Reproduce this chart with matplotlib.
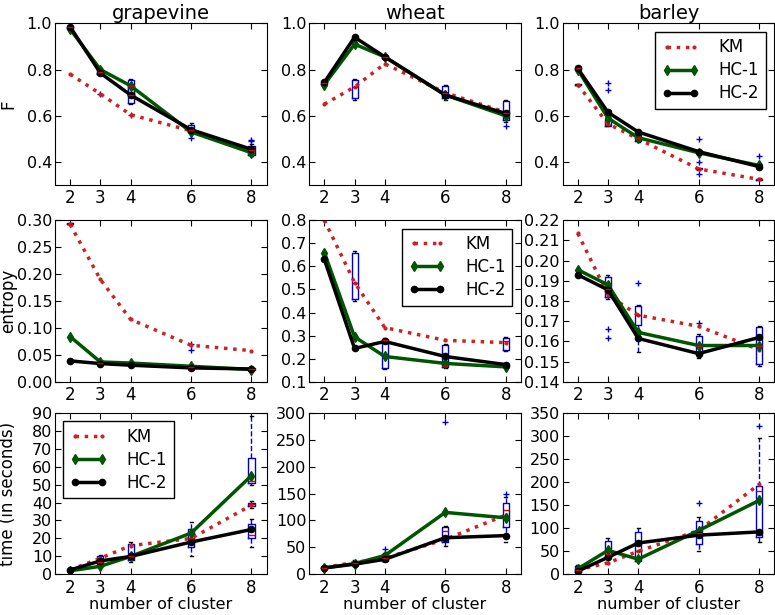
import numpy as np
import matplotlib
matplotlib.use("Agg")
import matplotlib.pyplot as plt

# cluster counts on the x axis
k = [2, 3, 4, 6, 8]
datasets = ['grapevine', 'wheat', 'barley']

# mean curves: one row per dataset, values at k
F_km = [[0.78, 0.695, 0.605, 0.535, 0.445],
        [0.65, 0.725, 0.825, 0.70, 0.615],
        [0.735, 0.565, 0.50, 0.37, 0.325]]
F_hc1 = [[0.975, 0.80, 0.73, 0.53, 0.44],
         [0.735, 0.91, 0.855, 0.69, 0.60],
         [0.80, 0.59, 0.505, 0.44, 0.385]]
F_hc2 = [[0.985, 0.785, 0.69, 0.54, 0.455],
         [0.745, 0.94, 0.855, 0.69, 0.61],
         [0.805, 0.615, 0.53, 0.445, 0.38]]

ent_km = [[0.292, 0.19, 0.116, 0.068, 0.058],
          [0.80, 0.53, 0.335, 0.28, 0.27],
          [0.2135, 0.183, 0.173, 0.1675, 0.156]]
ent_hc1 = [[0.084, 0.037, 0.035, 0.029, 0.023],
           [0.66, 0.295, 0.21, 0.18, 0.165],
           [0.1955, 0.188, 0.1645, 0.158, 0.158]]
ent_hc2 = [[0.039, 0.034, 0.031, 0.026, 0.024],
           [0.63, 0.245, 0.275, 0.21, 0.175],
           [0.193, 0.1855, 0.1615, 0.154, 0.162]]

time_km = [[2.5, 9, 16, 20, 38.5],
           [13, 22, 30, 65, 110],
           [10, 25, 50, 95, 195]]
time_hc1 = [[2, 4.5, 10, 23, 55],
            [12, 20, 35, 115, 105],
            [12, 52, 33, 95, 160]]
time_hc2 = [[2.5, 7.5, 10, 18, 25],
            [12, 19, 28, 68, 72],
            [7, 37, 68, 85, 92]]

# box summaries: (k, whisker low, q1, median, q3, whisker high, fliers)
F_boxes = [
    [(2, 0.98, 0.982, 0.985, 0.99, 0.992, []),
     (3, 0.775, 0.78, 0.79, 0.80, 0.805, [0.695]),
     (4, 0.68, 0.69, 0.73, 0.755, 0.76, [0.605]),
     (4, 0.65, 0.655, 0.69, 0.73, 0.735, []),
     (6, 0.52, 0.53, 0.54, 0.56, 0.57, [0.505]),
     (8, 0.425, 0.43, 0.45, 0.47, 0.48, [0.49, 0.495])],
    [(2, 0.735, 0.738, 0.74, 0.743, 0.745, []),
     (3, 0.67, 0.675, 0.725, 0.755, 0.76, []),
     (4, 0.85, 0.852, 0.855, 0.858, 0.86, []),
     (6, 0.67, 0.675, 0.70, 0.73, 0.735, []),
     (8, 0.575, 0.58, 0.61, 0.665, 0.67, [0.555])],
    [(2, 0.733, 0.734, 0.735, 0.736, 0.737, []),
     (2, 0.803, 0.804, 0.805, 0.806, 0.807, []),
     (3, 0.555, 0.557, 0.56, 0.585, 0.59, [0.74, 0.71]),
     (4, 0.485, 0.49, 0.505, 0.515, 0.54, []),
     (6, 0.365, 0.368, 0.37, 0.372, 0.375, [0.50, 0.40, 0.35]),
     (8, 0.32, 0.322, 0.325, 0.328, 0.33, [0.425, 0.39])]]
ent_boxes = [
    [(2, 0.291, 0.292, 0.293, 0.294, 0.295, []),
     (3, 0.032, 0.034, 0.036, 0.038, 0.04, []),
     (6, 0.024, 0.026, 0.028, 0.03, 0.032, [0.06, 0.071]),
     (8, 0.021, 0.023, 0.024, 0.026, 0.028, [])],
    [(3, 0.45, 0.46, 0.53, 0.66, 0.665, []),
     (4, 0.155, 0.16, 0.28, 0.285, 0.29, []),
     (6, 0.16, 0.165, 0.17, 0.26, 0.265, []),
     (8, 0.235, 0.24, 0.275, 0.29, 0.295, [])],
    [(3, 0.181, 0.182, 0.186, 0.192, 0.193, [0.166, 0.1615]),
     (4, 0.155, 0.168, 0.173, 0.1775, 0.178, [0.189]),
     (6, 0.152, 0.155, 0.158, 0.1625, 0.1635, [0.169]),
     (8, 0.148, 0.149, 0.158, 0.167, 0.1675, [])]]
time_boxes = [
    [(3, 4, 5, 7, 10, 11, []),
     (4, 7, 8, 10, 17, 18, []),
     (6, 10, 15, 20, 25, 29, []),
     (8, 15, 20, 22, 28, 31, []),
     (8, 37, 38, 39, 40, 41, []),
     (8, 50, 51, 52, 65, 88, [])],
    [(2, 9, 11, 12, 14, 15, []),
     (3, 17, 19, 21, 25, 27, []),
     (4, 24, 25, 30, 37, 40, [47]),
     (6, 52, 60, 80, 88, 90, [282]),
     (8, 60, 88, 120, 133, 143, [150])],
    [(2, 3, 5, 10, 18, 20, []),
     (3, 22, 40, 45, 72, 78, []),
     (4, 30, 30, 50, 92, 100, []),
     (6, 50, 65, 90, 115, 125, [155]),
     (8, 70, 80, 180, 192, 295, [322])]]

ylims = [[(0.3, 1.0)] * 3,
         [(0.0, 0.30), (0.1, 0.8), (0.14, 0.22)],
         [(0, 90), (0, 300), (0, 350)]]
yticks = [[np.arange(0.4, 1.01, 0.2)] * 3,
          [np.arange(0, 0.301, 0.05), np.arange(0.1, 0.801, 0.1), np.arange(0.14, 0.2201, 0.01)],
          [np.arange(0, 91, 10), np.arange(0, 301, 50), np.arange(0, 351, 50)]]
ytickfmt = [["%.1f"] * 3, ["%.2f", "%.1f", "%.2f"], ["%d"] * 3]
ylabels = ['F', 'entropy', 'time (in seconds)']
legend_at = {(0, 2): 'upper right', (1, 1): 'upper right', (2, 0): 'upper left'}

lines = [(F_km, F_hc1, F_hc2), (ent_km, ent_hc1, ent_hc2), (time_km, time_hc1, time_hc2)]
boxes = [F_boxes, ent_boxes, time_boxes]

plt.rcParams['font.family'] = 'DejaVu Sans'
fig = plt.figure(figsize=(7.75, 6.15), dpi=100)
lefts = [0.071, 0.399, 0.726]
bottoms = [0.699, 0.379, 0.066]
w, h = 0.273, 0.263

for r in range(3):
    for c in range(3):
        ax = fig.add_axes([lefts[c], bottoms[r], w, h])
        stats = [dict(whislo=b[1], q1=b[2], med=b[3], q3=b[4], whishi=b[5], fliers=b[6])
                 for b in boxes[r][c]]
        pos = [b[0] for b in boxes[r][c]]
        ax.bxp(stats, positions=pos, widths=0.2, manage_ticks=False,
               boxprops=dict(color='#0000cc', lw=1),
               medianprops=dict(color='#dd0000', lw=1),
               whiskerprops=dict(color='#0000cc', ls='--', lw=1),
               capprops=dict(color='k', lw=1),
               flierprops=dict(marker='+', markeredgecolor='#0000cc', markersize=5, ls='none'))
        km, hc1, hc2 = lines[r]
        ax.plot(k, km[c], color='#cc2222', ls=':', lw=2.5, marker='.', markersize=4, label='KM')
        ax.plot(k, hc1[c], color='#005500', ls='-', lw=2.5, marker='d', markersize=5, label='HC-1')
        ax.plot(k, hc2[c], color='k', ls='-', lw=2.5, marker='o', markersize=4.5, label='HC-2')
        ax.set_xlim(1.5, 8.5)
        ax.set_xticks(k)
        ax.set_ylim(*ylims[r][c])
        ax.set_yticks(yticks[r][c])
        ax.set_yticklabels([ytickfmt[r][c] % v for v in yticks[r][c]])
        ax.tick_params(direction='in', top=True, right=True, labelsize=12, length=4)
        ax.tick_params(axis='x', pad=3)
        ax.tick_params(axis='y', pad=2, labelsize=11.5)
        if r == 0:
            ax.set_title(datasets[c], fontsize=14, pad=3)
        if r == 2:
            ax.set_xlabel('number of cluster', fontsize=11.5, labelpad=0)
        if c == 0:
            ax.set_ylabel(ylabels[r], fontsize=12)
            ax.yaxis.set_label_coords(-0.18, 0.5)
        if (r, c) in legend_at:
            leg = ax.legend(loc=legend_at[(r, c)], numpoints=2, fontsize=12, fancybox=False,
                            framealpha=1, edgecolor='k', handlelength=2.2, borderpad=0.4,
                            labelspacing=0.3, handletextpad=1.2)
            leg.get_frame().set_linewidth(1)

fig.savefig('out.png', dpi=100)
